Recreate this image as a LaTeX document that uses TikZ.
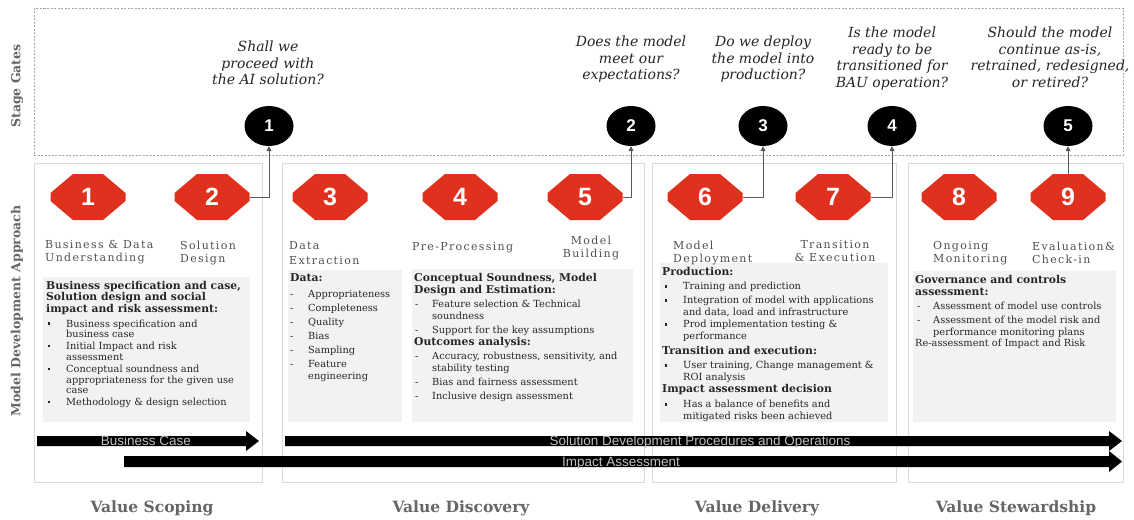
\documentclass[tikz,border=0pt]{standalone}
\usepackage{fontspec}
\setmainfont{DejaVu Serif}
\setsansfont{Liberation Sans}
\newfontfamily\phasefont[LetterSpace=12]{DejaVu Serif}
\usetikzlibrary{shapes.geometric,arrows.meta}
\definecolor{pwcred}{HTML}{E0301E}
\definecolor{panelline}{HTML}{D9D9D9}
\definecolor{boxfill}{HTML}{F2F2F2}
\definecolor{gatedash}{HTML}{A6A6A6}
\definecolor{labelgray}{HTML}{505050}
\definecolor{titlegray}{HTML}{666666}
\definecolor{arrowlabel}{HTML}{C0C0C0}
\definecolor{conngray}{HTML}{595959}
\definecolor{qtext}{HTML}{262626}
\newcommand\bul{\rule[2.4pt]{2.2pt}{2.2pt}}
\newcommand\hb[1]{{\fontsize{10.8}{11}\selectfont\bfseries #1}}
\newcommand\bl[3]{\hspace*{#1}\makebox[#2][l]{#3}}
\newcommand\hexnode[4]{%
  \fill[pwcred] (#2-37.5,#3-4) -- (#2-15,#3-23) -- (#2+15,#3-23) -- (#2+37.5,#3-4)
    -- (#2+37.5,#3+4) -- (#2+15,#3+23) -- (#2-15,#3+23) -- (#2-37.5,#3+4) -- cycle;
  \node[hexlabel] (#1) at (#2,#3) {#4};}
\begin{document}
\begin{tikzpicture}[x=1pt,y=-1pt,
  panel/.style={draw=panelline, line width=0.8pt, fill=white},
  gatebox/.style={draw=gatedash, line width=0.8pt, dash pattern=on 2pt off 1.5pt},
  gate/.style={ellipse, fill=black, minimum width=49pt, minimum height=40pt, inner sep=0pt, text=white, font=\sffamily\bfseries\fontsize{17}{17}\selectfont},
  hexlabel/.style={inner sep=0pt, minimum width=75pt, minimum height=46pt, text=white, font=\sffamily\bfseries\fontsize{25}{25}\selectfont},
  question/.style={align=center, anchor=north, inner sep=0pt, text=qtext, font=\itshape\fontsize{14}{16.5}\selectfont},
  phaselabel/.style={align=left, anchor=north west, inner sep=0pt, text=labelgray, font=\phasefont\fontsize{11}{13}\selectfont},
  boxtext/.style={align=left, anchor=north west, inner sep=0pt, text=black!85},
  conn/.style={draw=conngray, line width=0.9pt, -{Triangle[length=5pt,width=5pt]}},
  bigarrow/.style={fill=black},
  arrowtext/.style={anchor=base, inner sep=0pt, text=arrowlabel, font=\sffamily\fontsize{13.5}{13.5}\selectfont},
  sidetitle/.style={rotate=90, text=titlegray, font=\bfseries\fontsize{12.5}{13}\selectfont, inner sep=0pt},
  valuetitle/.style={text=titlegray, font=\bfseries\fontsize{15.5}{16}\selectfont, inner sep=0pt}
]
\useasboundingbox (0,0) rectangle (1134,519);
\fill[white] (0,0) rectangle (1134,519);

% stage gate band
\draw[gatebox] (34,8) rectangle (1123,155);
\node[sidetitle] (sg) at (17,86) {Stage Gates};
\node[sidetitle] (mda) at (17,311) {Model Development Approach};

% panels
\draw[panel] (34,163) rectangle (262,482);
\draw[panel] (282,163) rectangle (644,482);
\draw[panel] (652,163) rectangle (896,482);
\draw[panel] (908,163) rectangle (1123,482);

% grey boxes
\fill[boxfill] (43,277) rectangle (250,422);
\fill[boxfill] (288,270) rectangle (402,422);
\fill[boxfill] (412,269) rectangle (633,422);
\fill[boxfill] (660,263) rectangle (888,422);
\fill[boxfill] (913,271) rectangle (1116,422);

% hexagons
\hexnode{h1}{88}{197}{1}
\hexnode{h2}{212}{197}{2}
\hexnode{h3}{330}{197}{3}
\hexnode{h4}{460}{197}{4}
\hexnode{h5}{585}{197}{5}
\hexnode{h6}{705}{197}{6}
\hexnode{h7}{833}{197}{7}
\hexnode{h8}{959}{197}{8}
\hexnode{h9}{1068}{197}{9}

% gates
\node[gate] (g1) at (269,126) {1};
\node[gate] (g2) at (631,126) {2};
\node[gate] (g3) at (763,126) {3};
\node[gate] (g4) at (892,126) {4};
\node[gate] (g5) at (1068,126) {5};

% connectors
\draw[conn] (h2.east) -- (h2.east -| g1.south) -- (g1.south);
\draw[conn] (h5.east) -- (h5.east -| g2.south) -- (g2.south);
\draw[conn] (h6.east) -- (h6.east -| g3.south) -- (g3.south);
\draw[conn] (h7.east) -- (h7.east -| g4.south) -- (g4.south);
\draw[conn] (h9.north) -- (g5.south);

% questions
\node[question] (q1) at (268,41) {Shall we\\proceed with\\the AI solution?};
\node[question] (q2) at (631,36) {Does the model\\meet our\\expectations?};
\node[question] (q3) at (763,36) {Do we deploy\\the model into\\production?};
\node[question] (q4) at (892,27) {Is the model\\ready to be\\transitioned for\\BAU operation?};
\node[question] (q5) at (1050,27) {Should the model\\continue as-is,\\retrained, redesigned,\\or retired?};

% phase labels
\node[phaselabel] (l1) at (45,240.5) {Business \& Data\\Understanding};
\node[phaselabel] (l2) at (180,240.5) {Solution\\Design};
\node[phaselabel, font=\phasefont\fontsize{11}{15}\selectfont] (l3) at (289,241.5) {Data\\Extraction};
\node[phaselabel] (l4) at (412,242.5) {Pre-Processing};
\node[phaselabel, align=center, anchor=north] (l5) at (591,235.5) {Model\\Building};
\node[phaselabel] (l6) at (673,240.5) {Model\\Deployment};
\node[phaselabel, align=center, anchor=north] (l7) at (835,240.5) {Transition\\\& Execution};
\node[phaselabel] (l8) at (933,241.5) {Ongoing\\Monitoring};
\node[phaselabel] (l9) at (1032,241.5) {Evaluation\&\\Check-in};

% box contents
\node[boxtext, font=\fontsize{9.8}{10.5}\selectfont] (c1) at (46,281.5) {%
\hb{Business specification and case,}\\
\hb{Solution design and social}\\
\hb{impact and risk assessment:}\\[4.5pt]
\bl{2pt}{18pt}{\bul}Business specification and\\
\hspace*{20pt}business case\\[1.5pt]
\bl{2pt}{18pt}{\bul}Initial Impact and risk\\
\hspace*{20pt}assessment\\[2pt]
\bl{2pt}{18pt}{\bul}Conceptual soundness and\\
\hspace*{20pt}appropriateness for the given use\\
\hspace*{20pt}case\\[1.5pt]
\bl{2pt}{18pt}{\bul}Methodology \& design selection};

\node[boxtext, font=\fontsize{9.8}{12}\selectfont] (c2) at (290,273.5) {%
\hb{Data:}\\[4pt]
\bl{0pt}{18pt}{-}Appropriateness\\[2pt]
\bl{0pt}{18pt}{-}Completeness\\[2pt]
\bl{0pt}{18pt}{-}Quality\\[2pt]
\bl{0pt}{18pt}{-}Bias\\[2pt]
\bl{0pt}{18pt}{-}Sampling\\[2pt]
\bl{0pt}{18pt}{-}Feature\\
\hspace*{18pt}engineering};

\node[boxtext, font=\fontsize{9.8}{11.5}\selectfont] (c3) at (414,273.5) {%
\hb{Conceptual Soundness, Model}\\
\hb{Design and Estimation:}\\[3pt]
\bl{1pt}{17pt}{-}Feature selection \& Technical\\
\hspace*{18pt}soundness\\[3pt]
\bl{1pt}{17pt}{-}Support for the key assumptions\\[0.5pt]
\hb{Outcomes analysis:}\\[2.5pt]
\bl{1pt}{17pt}{-}Accuracy, robustness, sensitivity, and\\
\hspace*{18pt}stability testing\\[2.5pt]
\bl{1pt}{17pt}{-}Bias and fairness assessment\\[2.5pt]
\bl{1pt}{17pt}{-}Inclusive design assessment};

\node[boxtext, font=\fontsize{9.8}{12}\selectfont] (c4) at (662,267.5) {%
\hb{Production:}\\[2pt]
\bl{3pt}{18pt}{\bul}Training and prediction\\[2pt]
\bl{3pt}{18pt}{\bul}Integration of model with applications\\
\hspace*{21pt}and data, load and infrastructure\\
\bl{3pt}{18pt}{\bul}Prod implementation testing \&\\
\hspace*{21pt}performance\\[3pt]
\hb{Transition and execution:}\\[2pt]
\bl{3pt}{18pt}{\bul}User training, Change management \&\\
\hspace*{21pt}ROI analysis\\
\hb{Impact assessment decision}\\[3pt]
\bl{3pt}{18pt}{\bul}Has a balance of benefits and\\
\hspace*{21pt}mitigated risks been achieved};

\node[boxtext, font=\fontsize{9.8}{11.5}\selectfont] (c5) at (915,275.5) {%
\hb{Governance and controls}\\
\hb{assessment:}\\[3pt]
\bl{2pt}{16pt}{-}Assessment of model use controls\\[2.5pt]
\bl{2pt}{16pt}{-}Assessment of the model risk and\\
\hspace*{18pt}performance monitoring plans\\
Re-assessment of Impact and Risk};

% big arrows
\fill[bigarrow] (37,436) -- (246,436) -- (246,431) -- (259,441) -- (246,451) -- (246,446) -- (37,446) -- cycle;
\fill[bigarrow] (285,436) -- (1109,436) -- (1109,431) -- (1122,441) -- (1109,451) -- (1109,446) -- (285,446) -- cycle;
\fill[bigarrow] (124,456) -- (1109,456) -- (1109,451) -- (1122,461.5) -- (1109,472) -- (1109,467) -- (124,467) -- cycle;
\node[arrowtext] (a1) at (146,445.6) {Business Case};
\node[arrowtext] (a2) at (700,445.6) {Solution Development Procedures and Operations};
\node[arrowtext] (a3) at (621,466) {Impact Assessment};

% value titles
\node[valuetitle] (v1) at (152,508) {Value Scoping};
\node[valuetitle] (v2) at (461,508) {Value Discovery};
\node[valuetitle] (v3) at (757,508) {Value Delivery};
\node[valuetitle] (v4) at (1016,508) {Value Stewardship};
\end{tikzpicture}
\end{document}
